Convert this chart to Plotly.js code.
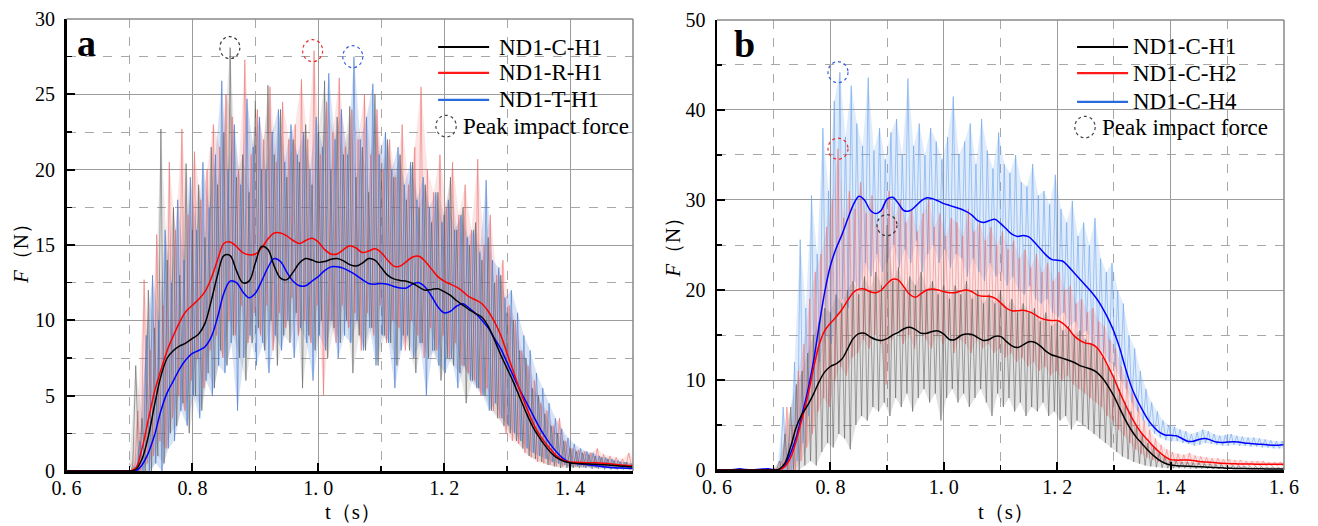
<!DOCTYPE html>
<html>
<head>
<meta charset="utf-8">
<script src="https://cdn.plot.ly/plotly-3.0.1.min.js"></script>
<style>html,body{margin:0;padding:0;background:#fff;}#chart{width:1318px;height:526px;}</style>
</head>
<body>
<div id="chart"></div>
<script>
// ---------- DATA ----------
// smooth (filtered) curves, t from 0.60 step 0.01
const smoothStart = 0.60, smoothStep = 0.01;
const smoothA_C_H1 = [0,0,0,0,0,0,0,0,0,0,0,
 0.1,0.8,2.3,4.4,6.3,7.5,8.0,8.3,8.5,8.8,
 9.1,9.8,11.3,13.0,14.3,14.3,13.3,12.5,12.6,13.8,
 14.9,14.7,13.6,12.8,12.7,13.2,13.8,14.1,14.0,13.85,
 13.9,14.05,14.1,13.95,13.7,13.6,13.8,14.1,14.0,13.5,
 13.0,12.75,12.65,12.6,12.45,12.2,12.0,12.05,12.1,11.9,
 11.65,11.3,11.0,10.7,10.45,10.2,9.6,8.7,7.7,6.8,
 5.9,4.9,3.9,3.0,2.3,1.7,1.2,0.85,0.65,0.55,
 0.5,0.48,0.46,0.44,0.42,0.4,0.37,0.33,0.3,0.27];
const smoothA_R_H1 = [0,0,0,0,0,0,0,0,0,0,0,
 0.2,1.5,3.4,5.3,6.7,8.0,9.0,9.9,10.6,11.0,
 11.4,11.9,12.8,14.0,15.1,15.2,14.9,14.5,14.35,14.4,
 14.8,15.4,15.8,15.8,15.6,15.3,15.1,15.3,15.45,15.2,
 14.7,14.4,14.4,14.7,14.95,14.8,14.5,14.6,14.75,14.5,
 14.0,13.6,13.6,13.9,14.2,14.25,13.9,13.4,12.9,12.6,
 12.4,12.2,11.9,11.55,11.35,11.1,10.6,9.9,9.0,7.8,
 6.6,5.4,4.3,3.3,2.5,1.9,1.4,0.95,0.7,0.6,
 0.58,0.56,0.55,0.54,0.52,0.5,0.45,0.4,0.36,0.35];
const smoothA_T_H1 = [0,0,0,0,0,0,0,0,0,0,0,
 0.0,0.4,1.2,2.4,4.0,5.2,6.0,6.8,7.4,7.8,
 8.0,8.25,8.9,10.2,11.8,12.6,12.5,11.9,11.5,11.8,
 12.6,13.5,14.1,13.9,13.2,12.6,12.3,12.3,12.6,12.9,
 13.3,13.55,13.55,13.45,13.25,13.0,12.7,12.45,12.4,12.45,
 12.4,12.25,12.15,12.15,12.4,12.5,12.2,11.6,10.9,10.5,
 10.6,10.95,11.1,10.8,10.45,10.0,9.5,8.8,8.1,7.2,
 6.3,5.4,4.6,3.8,3.0,2.3,1.7,1.2,0.8,0.55,
 0.5,0.45,0.4,0.35,0.3,0.25,0.22,0.2,0.18,0.17];

const smoothB_C_H1 = [0,0,0,0,0,0,0,0,0,0,0,
 0.1,0.8,2.6,4.8,6.2,7.2,8.4,9.8,10.9,11.5,
 11.8,12.3,13.4,14.6,15.15,15.2,14.8,14.5,14.4,14.6,
 15.0,15.3,15.7,15.85,15.6,15.2,15.2,15.4,15.45,15.1,
 14.5,14.5,14.95,15.1,15.05,14.7,14.4,14.5,14.85,14.85,
 14.3,13.8,13.6,13.9,14.25,14.2,13.8,13.2,12.8,12.6,
 12.4,12.2,11.95,11.6,11.4,11.2,10.85,10.2,9.3,8.2,
 6.9,5.6,4.5,3.6,2.9,2.2,1.6,1.1,0.75,0.55,
 0.48,0.45,0.42,0.4,0.37,0.33,0.3,0.27,0.24,0.2,
 0.18,0.17,0.16,0.15,0.14,0.13,0.12,0.11,0.1,0.1];
const smoothB_C_H2 = [0,0,0,0,0,0,0,0,0,0,0,
 0.05,0.4,1.4,3.3,5.7,8.2,11.2,13.9,15.5,16.3,
 17.0,17.8,18.8,19.7,20.1,20.1,19.8,19.7,20.0,20.7,
 21.2,21.1,20.3,19.5,19.2,19.6,20.0,20.1,20.0,19.8,
 19.7,19.7,19.9,20.0,19.8,19.4,19.3,19.3,19.1,18.6,
 18.0,17.7,17.7,17.75,17.6,17.3,16.9,16.7,16.6,16.6,
 16.3,15.7,14.9,14.4,14.1,14.0,13.6,12.7,11.5,10.2,
 8.7,7.3,6.0,4.9,4.0,3.3,2.6,2.0,1.5,1.15,
 1.1,1.1,1.1,1.05,0.95,0.9,0.85,0.8,0.75,0.72,
 0.7,0.68,0.67,0.66,0.65,0.65,0.64,0.64,0.65,0.65];
const smoothB_C_H4 = [0,0,0,0.05,0.15,0.05,0,0.05,0.1,0.15,0.05,
 0.05,0.6,1.9,3.7,6.2,8.8,12.0,16.0,19.8,22.7,
 24.6,26.1,27.8,29.4,30.4,30.0,28.9,28.5,28.9,30.1,
 30.3,29.6,28.8,28.8,29.3,29.9,30.25,30.15,29.9,29.6,
 29.4,29.2,29.0,28.7,28.3,27.7,27.5,27.7,27.85,27.4,
 26.8,26.2,25.95,26.05,25.9,25.3,24.6,23.9,23.4,23.3,
 23.2,22.6,21.9,21.2,20.5,19.8,19.0,18.0,16.8,15.4,
 13.6,11.4,9.4,7.9,6.7,5.6,4.8,4.2,3.9,3.85,
 3.8,3.5,3.2,3.2,3.4,3.5,3.35,3.1,3.05,3.1,
 3.15,3.1,3.0,2.95,2.9,2.85,2.8,2.75,2.75,2.8];

// raw (unfiltered) signal: spike tops and troughs, from t = 0.70 every 0.01 s
const rawStart = 0.70, rawStep = 0.01;
const rawA_C_top = [0.5,7.0,3.5,12.0,9.5,22.7,14.0,17.5,13.0,20.4,
 16.0,19.0,15.5,21.5,19.0,22.5,28.1,19.5,21.0,18.5,
 24.6,20.0,25.6,21.0,24.0,19.5,22.0,20.5,23.0,19.0,
 22.5,25.9,20.0,23.5,21.0,24.2,19.5,21.5,18.5,25.0,
 20.0,22.0,19.5,21.0,18.0,20.5,17.5,19.0,16.5,18.5,
 17.0,19.5,16.0,17.5,15.0,16.5,14.0,15.5,12.5,13.0,
 10.5,10.0,8.0,7.5,5.5,5.0,3.8,3.0,2.5,2.0,
 1.5,1.3,1.2,1.1,1.0,0.9,0.8,0.7,0.6,0.6,0.5];
const rawA_C_bot = [0,0,0,0,1.0,0.5,2.5,3.0,4.5,2.5,
 5.0,4.0,6.5,5.5,8.0,7.0,9.0,7.5,6.0,8.5,
 9.5,8.0,10.0,7.0,9.0,8.5,10.5,5.5,9.0,8.0,
 10.0,7.5,9.5,8.5,10.0,6.5,9.0,8.0,9.5,7.0,
 9.0,8.5,7.0,9.0,8.0,6.5,8.5,7.5,8.0,6.0,
 7.5,7.0,6.5,4.5,6.0,5.5,5.0,4.0,3.5,3.0,
 2.5,2.0,1.5,1.0,0.8,0.6,0.4,0.3,0.2,0.2,
 0.2,0.2,0.2,0.15,0.15,0.1,0.1,0.1,0.1,0.1,0.1];
const rawA_R_top = [0.5,4.0,12.7,8.0,15.7,11.0,20.5,16.0,22.7,17.0,
 21.2,18.0,20.0,23.0,21.5,25.0,23.5,20.0,27.3,21.0,
 24.0,22.0,25.5,20.5,24.5,22.0,23.0,26.0,22.0,27.9,
 21.0,24.5,22.5,26.1,21.5,24.0,22.0,25.0,21.0,24.0,
 20.0,22.0,19.5,23.0,19.0,21.5,25.5,20.0,18.5,21.0,
 17.5,20.5,17.0,19.0,16.0,20.7,15.0,17.0,13.0,14.0,
 11.0,10.0,8.0,7.0,6.0,4.5,4.0,3.0,3.5,2.0,
 1.5,1.4,1.3,1.2,1.5,1.1,1.0,0.9,0.8,1.2,0.7];
const rawA_R_bot = [0,0,0.5,1.0,2.0,1.5,3.5,5.0,4.0,6.0,
 7.5,5.5,8.0,9.0,7.5,10.0,9.0,11.0,8.5,10.5,
 9.0,11.0,8.0,10.5,9.5,11.5,9.0,10.0,8.5,11.0,
 5.0,10.0,8.5,11.0,9.5,10.5,8.0,10.5,9.0,11.0,
 8.5,10.0,9.5,8.0,10.0,9.0,7.5,9.5,8.0,9.0,
 7.5,8.5,7.0,6.5,6.0,5.0,5.5,4.0,3.5,2.5,
 2.0,1.8,1.2,0.9,0.6,0.5,0.4,0.3,0.3,0.3,
 0.3,0.3,0.3,0.25,0.25,0.25,0.2,0.2,0.2,0.2,0.2];
const rawA_T_top = [0.3,2.0,9.0,13.0,10.0,16.0,12.5,18.0,14.0,19.5,
 16.0,20.5,17.5,21.0,25.9,20.0,23.0,19.0,24.7,21.5,
 23.5,20.0,22.5,24.0,20.5,23.0,21.0,22.5,20.0,23.5,
 21.5,26.4,22.0,24.0,21.0,27.5,22.0,23.5,25.7,21.0,
 22.5,20.0,21.5,19.0,20.5,18.0,19.5,17.5,18.5,16.5,
 18.0,16.0,17.0,15.5,16.0,14.5,19.3,14.0,13.5,11.5,
 12.0,10.5,9.0,8.0,6.5,5.5,4.5,3.5,2.8,2.2,
 1.8,1.5,1.3,1.2,1.0,0.9,0.8,0.7,0.6,0.5,0.5];
const rawA_T_bot = [0,0,0,0.5,0,1.5,2.0,4.0,3.0,5.0,
 3.5,6.0,5.0,7.0,6.5,8.5,4.0,7.5,9.0,7.0,
 8.5,6.5,9.0,8.0,10.0,7.5,9.5,8.5,6.0,9.0,
 8.0,10.0,7.5,9.0,8.5,10.0,8.0,9.5,7.0,9.0,
 8.5,5.5,8.0,9.0,7.5,8.5,5.0,8.0,7.0,6.5,
 7.5,5.5,7.0,6.0,5.5,5.0,4.0,4.5,3.5,3.0,
 2.5,2.0,1.5,1.2,1.0,0.8,0.6,0.5,0.4,0.3,
 0.3,0.25,0.25,0.2,0.2,0.2,0.15,0.15,0.15,0.1,0.1];

const rawB_H4_top = [0.3,7.0,3.0,12.0,25.6,18.0,30.5,24.0,38.0,31.0,
 41.0,44.2,37.0,42.7,38.5,36.0,43.6,35.5,38.0,34.5,
 37.5,39.0,35.0,43.5,36.0,38.5,35.0,38.0,36.5,34.5,
 37.0,41.5,35.0,36.5,38.5,34.0,39.0,35.5,33.5,37.5,
 34.0,33.0,35.0,32.0,31.5,34.0,30.5,31.0,29.5,32.8,
 29.0,27.5,29.9,26.0,27.5,25.0,28.0,23.5,22.0,23.0,
 20.0,18.5,15.0,13.5,11.0,9.0,7.5,6.5,5.5,5.0,
 4.8,4.5,4.3,4.0,4.2,4.5,4.3,4.0,3.8,3.9,
 4.0,3.8,3.7,3.6,3.6,3.5,3.4,3.3,3.2,3.2,3.1];
const rawB_H4_bot = [0,0,0,1.0,3.0,6.0,9.0,12.0,15.0,14.0,
 17.0,19.0,18.0,21.0,20.0,23.0,21.5,24.0,22.0,23.5,
 25.0,22.5,24.5,23.0,25.5,22.0,24.0,25.0,23.0,24.5,
 22.5,24.0,23.5,21.5,23.5,22.0,21.0,23.0,21.5,22.0,
 20.5,21.5,20.0,19.5,20.5,19.0,18.5,19.0,17.5,17.0,
 17.5,16.0,16.5,15.0,15.5,14.0,13.5,13.0,12.0,11.5,
 10.0,9.0,7.5,6.5,5.5,4.8,4.0,3.6,3.3,3.2,
 3.2,3.0,2.9,2.7,2.8,3.0,2.9,2.8,2.7,2.7,
 2.8,2.7,2.7,2.6,2.6,2.5,2.5,2.4,2.4,2.4,2.4];
const rawB_H2_top = [0.2,1.0,7.0,5.0,11.0,14.0,19.0,22.0,24.0,27.0,
 30.0,35.7,28.0,31.0,29.0,32.0,28.5,30.5,27.0,29.5,
 31.0,28.0,30.0,27.5,29.0,26.5,28.5,30.0,27.0,28.5,
 26.0,28.0,27.5,26.0,29.0,26.5,27.5,25.5,27.0,25.0,
 26.5,24.5,25.5,23.5,24.5,22.5,24.0,22.0,23.0,21.0,
 22.0,20.0,20.5,18.5,19.0,17.5,18.0,16.5,16.0,14.5,
 13.5,11.5,10.0,8.5,7.0,5.5,4.5,3.5,2.8,2.3,
 2.0,1.8,1.7,1.9,1.6,1.5,1.4,1.3,1.3,1.2,
 1.2,1.1,1.1,1.0,1.0,1.0,1.0,0.9,0.9,0.9,0.9];
const rawB_H2_bot = [0,0,0,0,1.0,2.5,4.0,6.5,8.0,7.0,
 10.0,11.5,10.5,12.5,13.0,14.5,13.5,15.0,14.0,9.5,
 14.5,15.5,14.0,15.0,13.5,15.5,14.5,13.5,15.0,14.0,
 15.0,13.0,14.5,14.0,13.0,14.5,13.5,14.0,13.0,13.5,
 12.5,13.0,12.0,12.5,11.5,12.0,11.0,11.5,10.5,11.0,
 10.0,10.5,9.5,9.0,8.5,8.0,7.5,7.0,6.0,5.5,
 4.5,3.8,3.0,2.3,1.8,1.4,1.1,0.9,0.8,0.7,
 0.7,0.6,0.6,0.6,0.6,0.55,0.55,0.5,0.5,0.5,
 0.5,0.5,0.5,0.45,0.45,0.45,0.45,0.45,0.45,0.45,0.45];
const rawB_H1_top = [0.2,1.0,4.0,7.0,9.5,11.0,13.0,15.0,16.5,18.0,
 17.5,19.5,18.5,20.0,21.0,19.5,21.5,20.0,22.0,20.5,
 27.2,21.0,22.5,20.0,21.5,20.5,22.0,20.0,21.0,19.5,
 20.5,19.0,20.5,19.5,21.0,19.0,20.0,18.5,19.5,18.5,
 20.0,18.0,19.0,17.5,18.5,17.5,18.0,16.5,17.5,16.0,
 16.5,15.5,16.0,15.0,15.5,14.5,14.0,13.5,12.5,11.5,
 10.5,9.0,7.5,6.5,5.0,4.0,3.0,2.5,2.0,1.5,
 1.2,1.0,0.9,0.9,0.8,0.8,0.7,0.7,0.6,0.6,
 0.5,0.5,0.5,0.45,0.4,0.4,0.4,0.35,0.35,0.3,0.3];
const rawB_H1_bot = [0,0,0,0,0,0.5,1.0,0.5,2.0,3.0,
 2.5,4.0,3.5,2.3,5.0,6.0,5.5,7.0,6.5,7.5,
 6.0,8.0,7.0,8.5,6.5,8.0,9.0,7.5,8.5,5.5,
 8.0,9.0,7.5,8.5,7.0,8.0,9.0,7.5,6.0,8.5,
 7.0,8.0,6.5,7.5,6.0,7.0,6.5,7.5,6.0,6.5,
 5.5,6.0,4.5,5.5,5.0,4.5,4.0,3.5,3.0,2.5,
 2.0,1.5,1.2,0.9,0.7,0.5,0.4,0.3,0.25,0.2,
 0.2,0.2,0.2,0.15,0.15,0.15,0.15,0.1,0.1,0.1,
 0.1,0.1,0.1,0.1,0.1,0.05,0.05,0.05,0.05,0.05,0.05];

// peak impact force markers
const peakA_t = [0.8595, 0.991, 1.0548];
const peakA_F = [28.1, 27.9, 27.5];
const peakB_t = [0.8998, 0.8134, 0.8134];
const peakB_F = [27.2, 35.7, 44.2];

const namesA = ['ND1-C-H1', 'ND1-R-H1', 'ND1-T-H1'];
const namesB = ['ND1-C-H1', 'ND1-C-H2', 'ND1-C-H4'];
const peakLabel = 'Peak impact force';
const tickValsA = [0.6, 0.8, 1.0, 1.2, 1.4];
const tickTextA = ['0. 6', '0. 8', '1. 0', '1. 2', '1. 4'];
const tickValsB = [0.6, 0.8, 1.0, 1.2, 1.4, 1.6];
const tickTextB = ['0. 6', '0. 8', '1. 0', '1. 2', '1. 4', '1. 6'];

// ---------- DRAWING ----------
const FONT = 'Liberation Serif';
const smoothT = arr => arr.map((_, i) => +(smoothStart + i * smoothStep).toFixed(4));
function zig(tops, bots, off) {
  const x = [], y = [];
  for (let i = 0; i < tops.length; i++) {
    x.push(rawStart + off + i * rawStep); y.push(tops[i]);
    x.push(rawStart + off + rawStep / 2 + i * rawStep); y.push(bots[i]);
  }
  return {x, y};
}
function rawTrace(tops, bots, off, color, xa, ya) {
  const z = zig(tops, bots, off);
  return {x: z.x, y: z.y, type: 'scatter', mode: 'lines', xaxis: xa, yaxis: ya,
    line: {color: color, width: 1}, hoverinfo: 'skip', showlegend: false};
}
function bandTrace(tops, bots, off, fillcolor, xa, ya) {
  const x = [], y = [];
  for (let i = 0; i < tops.length; i++) { x.push(rawStart + off + i * rawStep); y.push(tops[i]); }
  for (let i = bots.length - 1; i >= 0; i--) { x.push(rawStart + off + rawStep / 2 + i * rawStep); y.push(bots[i]); }
  return {x, y, type: 'scatter', mode: 'lines', fill: 'toself', fillcolor: fillcolor, xaxis: xa, yaxis: ya,
    line: {width: 0, color: 'rgba(0,0,0,0)'}, hoverinfo: 'skip', showlegend: false};
}
function smoothTrace(arr, color, xa, ya, name) {
  return {x: smoothT(arr), y: arr, type: 'scatter', mode: 'lines', xaxis: xa, yaxis: ya, name: name,
    line: {color: color, width: 1.5, shape: 'spline', smoothing: 1}, showlegend: false};
}

const traces = [
  bandTrace(rawA_R_top, rawA_R_bot, 0.0033, 'rgba(235,95,95,0.16)', 'x', 'y'),
  bandTrace(rawA_C_top, rawA_C_bot, 0.0, 'rgba(90,90,90,0.14)', 'x', 'y'),
  bandTrace(rawA_T_top, rawA_T_bot, 0.0067, 'rgba(60,115,205,0.2)', 'x', 'y'),
  rawTrace(rawA_R_top, rawA_R_bot, 0.0033, 'rgba(235,95,95,0.5)', 'x', 'y'),
  rawTrace(rawA_C_top, rawA_C_bot, 0.0, 'rgba(90,90,90,0.55)', 'x', 'y'),
  rawTrace(rawA_T_top, rawA_T_bot, 0.0067, 'rgba(60,115,205,0.55)', 'x', 'y'),
  smoothTrace(smoothA_T_H1, '#0000ff', 'x', 'y', namesA[2]),
  smoothTrace(smoothA_R_H1, '#ff0000', 'x', 'y', namesA[1]),
  smoothTrace(smoothA_C_H1, '#000000', 'x', 'y', namesA[0]),

  bandTrace(rawB_H4_top, rawB_H4_bot, 0.0067, 'rgba(100,160,235,0.2)', 'x2', 'y2'),
  bandTrace(rawB_H2_top, rawB_H2_bot, 0.0033, 'rgba(240,110,110,0.18)', 'x2', 'y2'),
  bandTrace(rawB_H1_top, rawB_H1_bot, 0.0, 'rgba(95,95,95,0.18)', 'x2', 'y2'),
  rawTrace(rawB_H4_top, rawB_H4_bot, 0.0067, 'rgba(100,160,235,0.55)', 'x2', 'y2'),
  rawTrace(rawB_H2_top, rawB_H2_bot, 0.0033, 'rgba(240,110,110,0.5)', 'x2', 'y2'),
  rawTrace(rawB_H1_top, rawB_H1_bot, 0.0, 'rgba(95,95,95,0.55)', 'x2', 'y2'),
  smoothTrace(smoothB_C_H4, '#0000ff', 'x2', 'y2', namesB[2]),
  smoothTrace(smoothB_C_H2, '#ff0000', 'x2', 'y2', namesB[1]),
  smoothTrace(smoothB_C_H1, '#000000', 'x2', 'y2', namesB[0])
];

const gridMaj = '#9c9c9c', gridMin = '#a8a8a8';
function xAxis(domain, range, tv, tt, anchor) {
  return {domain: domain, range: range, anchor: anchor, tickmode: 'array', tickvals: tv, ticktext: tt,
    showgrid: true, gridcolor: gridMaj, gridwidth: 1, zeroline: false,
    showline: true, linecolor: '#000', linewidth: 2.5,
    ticks: 'inside', ticklen: 8, tickwidth: 2, tickcolor: '#000',
    ticklabelstandoff: -3,
    tickfont: {family: FONT, size: 20, color: '#000'},
    minor: {tickmode: 'linear', tick0: 0.6, dtick: 0.1, showgrid: true, gridcolor: gridMin, griddash: 'dash', gridwidth: 1,
      ticks: 'inside', ticklen: 5, tickwidth: 1.5, tickcolor: '#000'},
    fixedrange: true};
}
function yAxis(domain, range, dt, anchor) {
  return {domain: domain, range: range, anchor: anchor, tickmode: 'linear', tick0: 0, dtick: dt,
    showgrid: true, gridcolor: gridMaj, gridwidth: 1, zeroline: false,
    showline: true, linecolor: '#000', linewidth: 2.5,
    ticks: 'inside', ticklen: 8, tickwidth: 2, tickcolor: '#000',
    ticklabelstandoff: 5,
    tickfont: {family: FONT, size: 20, color: '#000'},
    minor: {tickmode: 'linear', tick0: 0, dtick: dt / 2, showgrid: true, gridcolor: gridMin, griddash: 'dash', gridwidth: 1,
      ticks: 'inside', ticklen: 5, tickwidth: 1.5, tickcolor: '#000'},
    fixedrange: true};
}

const shapes = [];
const annotations = [];
// frame top/right (gray)
[['x', 'y'], ['x2', 'y2']].forEach(([xa, ya]) => {
  shapes.push({type: 'line', xref: xa + ' domain', yref: ya + ' domain', x0: 0, x1: 1, y0: 1, y1: 1, line: {color: '#888', width: 1.5}});
  shapes.push({type: 'line', xref: xa + ' domain', yref: ya + ' domain', x0: 1, x1: 1, y0: 0, y1: 1, line: {color: '#888', width: 1.5}});
});
// peak circles
const peakCols = ['#333333', '#e83030', '#3060e0'];
function peakCircles(ts, fs, xa, ya, h) {
  ts.forEach((t, i) => {
    shapes.push({type: 'circle', xref: xa, yref: ya, xsizemode: 'pixel', ysizemode: 'pixel',
      xanchor: t, yanchor: fs[i], x0: -10, x1: 10, y0: -h, y1: h,
      line: {color: peakCols[i], width: 1.2, dash: 'dot'}});
  });
}
peakCircles(peakA_t, peakA_F, 'x', 'y', 11);
peakCircles(peakB_t, peakB_F, 'x2', 'y2', 10.5);

// legends
const legCols = ['#000000', '#ff1a1a', '#2b6be0'];
function legend(xa, ya, names, lx0, lx1, tx, rows, cx) {
  names.forEach((n, i) => {
    shapes.push({type: 'line', xref: xa + ' domain', yref: ya + ' domain', x0: lx0, x1: lx1, y0: rows[i], y1: rows[i],
      line: {color: legCols[i], width: 2.2}});
    annotations.push({xref: xa + ' domain', yref: ya + ' domain', x: tx, y: rows[i], xanchor: 'left', yanchor: 'middle',
      text: n, showarrow: false, font: {family: FONT, size: 23, color: '#000'}});
  });
  shapes.push({type: 'circle', xref: xa + ' domain', yref: ya + ' domain', x0: cx - 0.018, x1: cx + 0.018,
    y0: rows[3] - 0.024, y1: rows[3] + 0.024, line: {color: '#444', width: 1.2, dash: 'dot'}});
  annotations.push({xref: xa + ' domain', yref: ya + ' domain', x: cx + 0.026, y: rows[3], xanchor: 'left', yanchor: 'middle',
    text: peakLabel, showarrow: false, font: {family: FONT, size: 23, color: '#000'}});
}
legend('x', 'y', namesA, 0.656, 0.746, 0.760, [0.938, 0.881, 0.821, 0.763], 0.670);
legend('x2', 'y2', namesB, 0.635, 0.725, 0.730, [0.940, 0.882, 0.818, 0.762], 0.649);

function centerText(xref, yref, x, y, text, size, angle) {
  const a = {xref: xref, yref: yref, x: x, y: y, xanchor: 'center', yanchor: 'middle', text: text, showarrow: false,
    font: {family: FONT, size: size, color: '#000'}};
  if (angle) a.textangle = angle;
  annotations.push(a);
}
// panel letters
centerText('x domain', 'y domain', 0.036, 0.947, '<b>a</b>', 38);
centerText('x2 domain', 'y2 domain', 0.048, 0.947, '<b>b</b>', 38);
// axis titles
centerText('paper', 'paper', 0.2678, -0.09, 't（s）', 21);
centerText('paper', 'paper', 0.7633, -0.09, 't（s）', 21);
centerText('paper', 'paper', 0.0159, 0.493, '<i>F</i>（N）', 21, -90);
centerText('paper', 'paper', 0.5106, 0.507, '<i>F</i>（N）', 21, -90);

const layout = {
  width: 1318, height: 526,
  margin: {l: 0, r: 0, t: 19, b: 55},
  paper_bgcolor: '#fff', plot_bgcolor: '#fff',
  showlegend: false,
  font: {family: FONT},
  xaxis: xAxis([0.05046, 0.48027], [0.6, 1.5], tickValsA, tickTextA, 'y'),
  yaxis: yAxis([0, 1], [0, 30], 5, 'x'),
  xaxis2: xAxis([0.54401, 0.97420], [0.6, 1.6], tickValsB, tickTextB, 'y2'),
  yaxis2: yAxis([0.0022, 0.9978], [0, 50], 10, 'x2'),
  shapes: shapes,
  annotations: annotations
};

Plotly.newPlot('chart', traces, layout, {displayModeBar: false, staticPlot: true});
</script>
</body>
</html>
